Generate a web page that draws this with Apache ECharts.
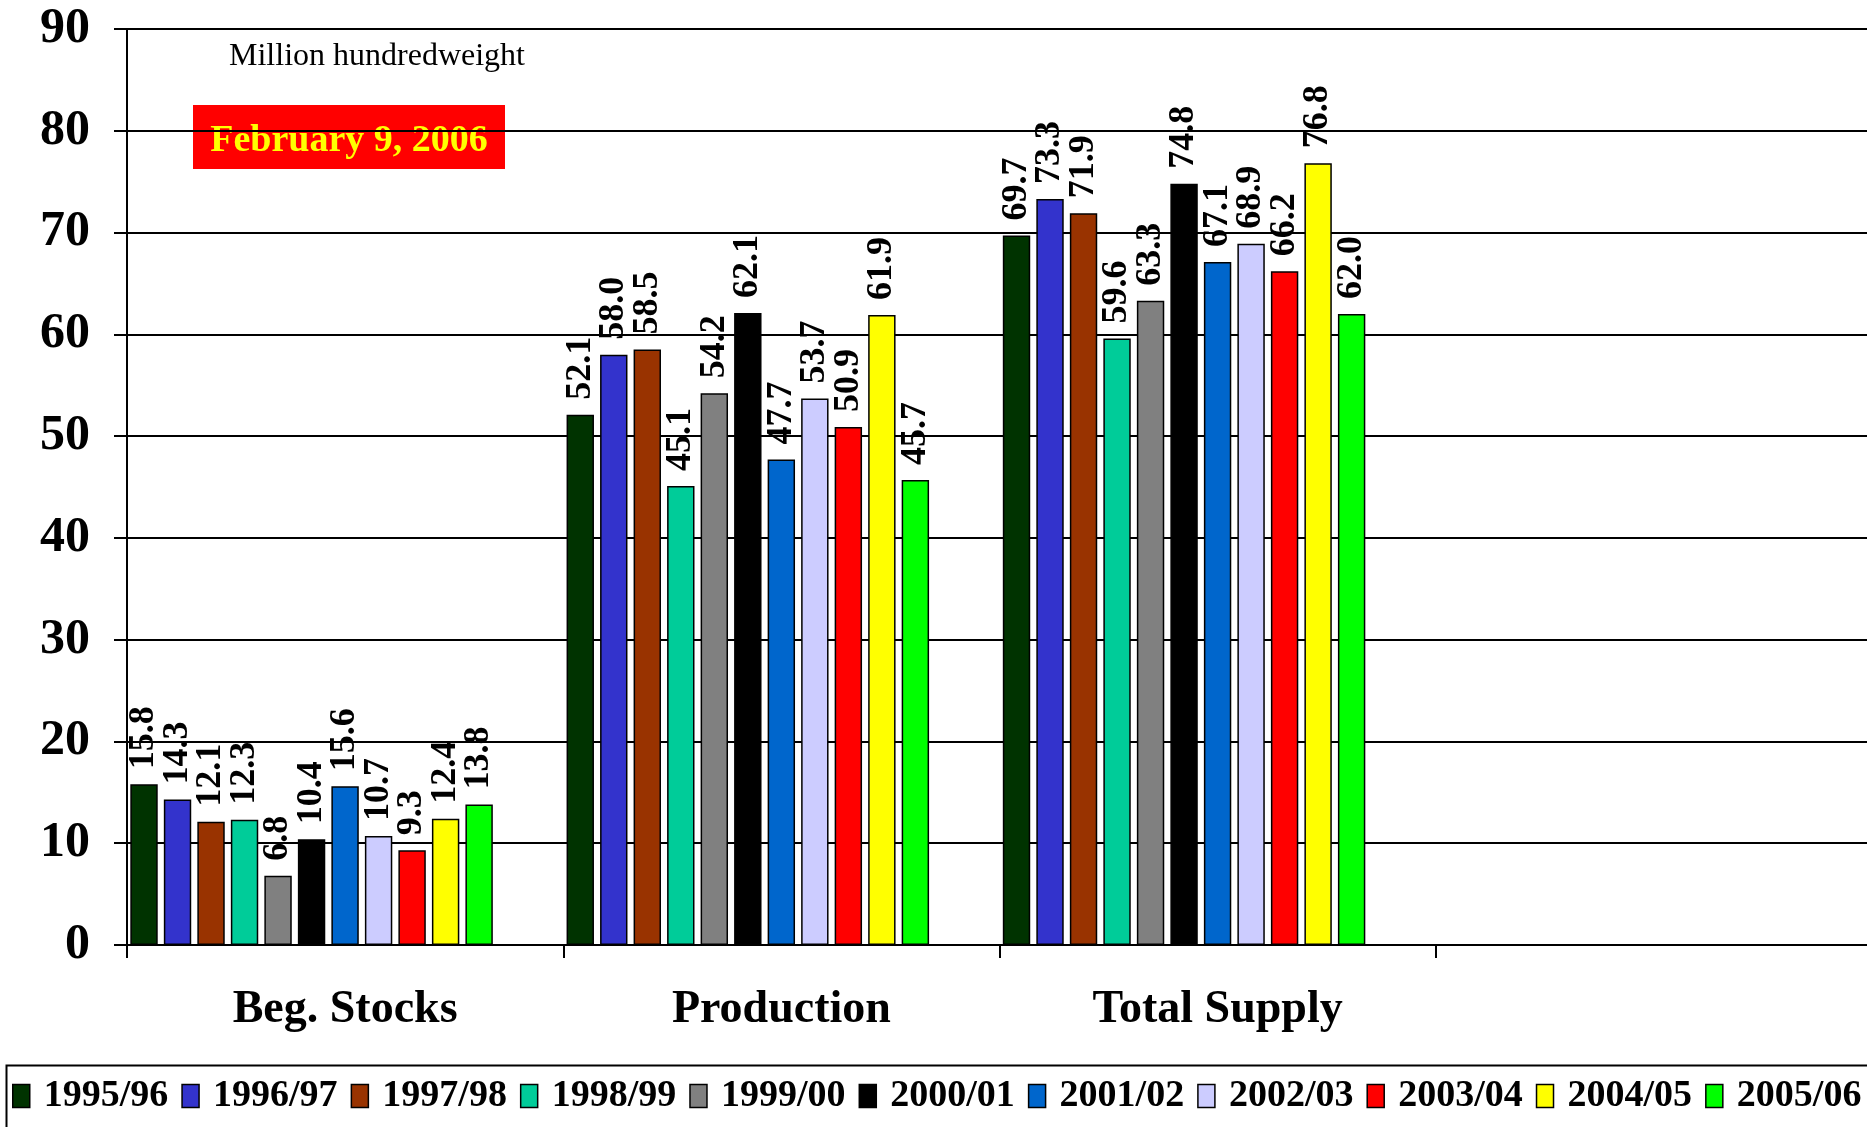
<!DOCTYPE html>
<html>
<head>
<meta charset="utf-8">
<script src="https://cdn.jsdelivr.net/npm/echarts@6/dist/echarts.min.js"></script>
<style>
html,body{margin:0;padding:0;background:#fff;}
#chart{width:1867px;height:1127px;}
</style>
</head>
<body>
<div id="chart"></div>
<script>
const categories = ['Beg. Stocks', 'Production', 'Total Supply', ''];
const seasons = ['1995/96','1996/97','1997/98','1998/99','1999/00','2000/01','2001/02','2002/03','2003/04','2004/05','2005/06'];
const colors = ['#003300','#3333CC','#993300','#00CC99','#808080','#000000','#0066CC','#CCCCFF','#FF0000','#FFFF00','#00FF00'];
const begStocks   = [15.8, 14.3, 12.1, 12.3, 6.8, 10.4, 15.6, 10.7, 9.3, 12.4, 13.8];
const production  = [52.1, 58.0, 58.5, 45.1, 54.2, 62.1, 47.7, 53.7, 50.9, 61.9, 45.7];
const totalSupply = [69.7, 73.3, 71.9, 59.6, 63.3, 74.8, 67.1, 68.9, 66.2, 76.8, 62.0];
const yTicks = [0, 10, 20, 30, 40, 50, 60, 70, 80, 90];

const FONT = '"Liberation Serif", "Times New Roman", serif';

const series = seasons.map((s, i) => ({
  name: s,
  type: 'bar',
  data: [begStocks[i], production[i], totalSupply[i], '-'],
  barWidth: 27.4,
  barGap: '22.3%',
  itemStyle: { color: colors[i], borderColor: '#000', borderWidth: 1.5 },
  label: {
    show: true,
    position: 'top',
    rotate: 90,
    align: 'left',
    verticalAlign: 'middle',
    distance: 15,
    formatter: p => Number(p.value).toFixed(1),
    fontFamily: FONT,
    fontWeight: 'bold',
    fontSize: 36,
    color: '#000'
  },
  emphasis: { disabled: true },
  animation: false
}));
// spacer keeps the cluster left-aligned inside each category, as in the original
series.push({
  name: '_spacer',
  type: 'bar',
  data: ['-', '-', '-', '-'],
  barWidth: 61,
  barGap: '22.3%',
  silent: true,
  animation: false
});

const chart = echarts.init(document.getElementById('chart'), null, { renderer: 'canvas' });
chart.setOption({
  animation: false,
  backgroundColor: '#fff',
  grid: { left: 127, width: 1745, top: 29, bottom: 182, containLabel: false, outerBoundsMode: 'none' },
  xAxis: {
    type: 'category',
    data: categories,
    axisLine: { lineStyle: { color: '#000', width: 2 } },
    axisTick: { show: true, length: 13, lineStyle: { color: '#000', width: 2 } },
    axisLabel: { margin: 42, fontFamily: FONT, fontWeight: 'bold', fontSize: 46, color: '#000', interval: 0 },
    splitLine: { show: false }
  },
  yAxis: {
    type: 'value',
    min: yTicks[0],
    max: yTicks[yTicks.length - 1],
    interval: 10,
    axisLine: { show: true, lineStyle: { color: '#000', width: 2 } },
    axisTick: { show: true, length: 13, lineStyle: { color: '#000', width: 2 } },
    axisLabel: { margin: 37, fontFamily: FONT, fontWeight: 'bold', fontSize: 50, color: '#000' },
    splitLine: { show: true, lineStyle: { color: '#000', width: 2 } }
  },
  legend: {
    data: seasons,
    left: 12,
    top: 1077,
    width: 2200,
    orient: 'horizontal',
    itemWidth: 17,
    itemHeight: 23,
    itemGap: 13,
    icon: 'rect',
    padding: 0,
    selectedMode: false,
    textStyle: { fontFamily: FONT, fontWeight: 'bold', fontSize: 38, color: '#000', padding: [0, 0, 0, 9] },
    itemStyle: { borderColor: '#000', borderWidth: 1.5 }
  },
  graphic: [
    {
      type: 'rect', left: 4, top: 1063, silent: true,
      shape: { width: 1900, height: 100 },
      style: { fill: 'none', stroke: '#000', lineWidth: 2 }
    },
    {
      type: 'text', left: 229, top: 41, silent: true,
      style: { text: 'Million hundredweight', font: '32px "Liberation Serif", serif', fill: '#000' }
    },
    {
      type: 'rect', left: 193, top: 105, silent: true,
      shape: { width: 312, height: 64 },
      style: { fill: '#FF0000' }
    },
    {
      type: 'text', x: 349, y: 141, silent: true,
      style: { text: 'February 9, 2006', font: 'bold 38px "Liberation Serif", serif', fill: '#FFFF00', align: 'center', verticalAlign: 'middle' }
    }
  ],
  series: series
});
</script>
</body>
</html>
